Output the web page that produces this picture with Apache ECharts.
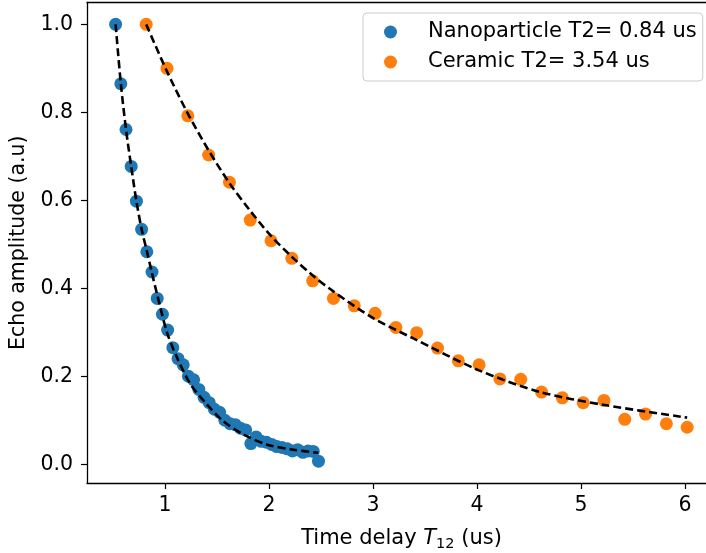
<!DOCTYPE html>
<html>
<head>
<meta charset="utf-8">
<script src="https://cdn.jsdelivr.net/npm/echarts@6/dist/echarts.min.js"></script>
<style>html,body{margin:0;padding:0;background:#fff;}#c{width:706px;height:553px;}</style>
</head>
<body>
<div id="c"></div>
<script>
// Nanoparticle data
var nanoX = [0.526,0.576,0.626,0.676,0.726,0.776,0.826,0.876,0.926,0.976,1.026,1.076,1.126,1.176,1.226,1.276,1.326,1.376,1.426,1.476,1.526,1.576,1.626,1.676,1.726,1.776,1.826,1.876,1.926,1.976,2.026,2.076,2.126,2.176,2.226,2.276,2.326,2.376,2.426,2.476];
var nanoY = [1.0,0.865,0.761,0.677,0.598,0.534,0.483,0.437,0.377,0.341,0.305,0.265,0.240,0.226,0.200,0.192,0.170,0.152,0.140,0.125,0.118,0.100,0.092,0.090,0.082,0.078,0.047,0.062,0.052,0.050,0.045,0.040,0.038,0.035,0.030,0.033,0.027,0.030,0.029,0.007];
// Nanoparticle fit curve
var nanoFitX = [0.526,0.576,0.626,0.676,0.726,0.776,0.824,0.872,0.926,1.022,1.112,1.24,1.40,1.56,1.753,1.978,2.234,2.474];
var nanoFitY = [1.0,0.866,0.761,0.677,0.598,0.534,0.487,0.438,0.385,0.298,0.245,0.184,0.137,0.098,0.068,0.045,0.033,0.026];
// Ceramic data
var ceraX = [0.82,1.02,1.22,1.42,1.62,1.82,2.02,2.22,2.42,2.62,2.82,3.02,3.22,3.42,3.62,3.82,4.02,4.22,4.42,4.62,4.82,5.02,5.22,5.42,5.62,5.82,6.02];
var ceraY = [1.0,0.900,0.792,0.703,0.641,0.555,0.508,0.468,0.417,0.377,0.360,0.343,0.311,0.299,0.264,0.235,0.226,0.194,0.193,0.164,0.151,0.140,0.145,0.102,0.114,0.092,0.084];
// Ceramic fit curve
var ceraFitX = [0.82,1.016,1.214,1.416,1.618,1.817,2.016,2.218,2.416,2.618,3.003,3.388,4.013,4.61,5.215,6.02];
var ceraFitY = [1.0,0.895,0.800,0.715,0.640,0.577,0.520,0.472,0.430,0.393,0.332,0.286,0.214,0.164,0.135,0.106];
// Tick labels
var xTicks = [1,2,3,4,5,6];
var yTicks = [0.0,0.2,0.4,0.6,0.8,1.0];
var legendNames = ['Nanoparticle T2= 0.84 us','Ceramic T2= 3.54 us'];

function pairs(xs, ys){ return xs.map(function(x,i){ return [x, ys[i]]; }); }

var chart = echarts.init(document.getElementById('c'), null, {renderer:'canvas'});
var font = 'DejaVu Sans';
var spine = {show: true, onZero: false, lineStyle: {color: '#000', width: 1.3}};
chart.setOption({
  animation: false,
  backgroundColor: '#ffffff',
  textStyle: {fontFamily: font},
  grid: {left: 87, width: 629, top: 2.5, bottom: 70, containLabel: false, outerBoundsMode: 'none', show: false},
  legend: {
    data: legendNames.map(function(n){ return {name: n, icon: 'circle'}; }),
    orient: 'vertical', left: 363, top: 13,
    itemWidth: 13, itemHeight: 13, itemGap: 8,
    padding: [8, 6, 8, 21],
    backgroundColor: 'rgba(255,255,255,0.8)', borderColor: '#cccccc', borderWidth: 1, borderRadius: 4,
    textStyle: {fontFamily: font, fontSize: 21, color: '#000', lineHeight: 22, padding: [0,0,0,26]}
  },
  xAxis: [{
    type: 'value', min: 0.251, max: 6.297, position: 'bottom',
    name: '{n|Time delay }{i|T}{s|12}{n| (us)}', nameLocation: 'middle', nameGap: 42,
    nameTextStyle: {rich: {
      n: {fontFamily: font, fontSize: 21, color: '#000'},
      i: {fontFamily: font, fontSize: 21, fontStyle: 'italic', color: '#000'},
      s: {fontFamily: font, fontSize: 14.5, color: '#000', verticalAlign: 'bottom', padding: [12,0,0,0]}
    }},
    axisLine: spine,
    axisTick: {show: true, length: 6, lineStyle: {color: '#000', width: 1.2}, customValues: xTicks},
    axisLabel: {customValues: xTicks, fontFamily: font, fontSize: 20.5, color: '#000', margin: 12, formatter: function(v){ return String(v); }},
    splitLine: {show: false}
  }, {
    type: 'value', min: 0.251, max: 6.297, position: 'top',
    axisLine: spine, axisTick: {show: false}, axisLabel: {show: false}, splitLine: {show: false}
  }],
  yAxis: {
    type: 'value', min: -0.0427, max: 1.0497,
    name: 'Echo amplitude (a.u)', nameLocation: 'middle', nameGap: 58, nameRotate: 90,
    nameTextStyle: {fontFamily: font, fontSize: 20.5, color: '#000'},
    axisLine: spine,
    axisTick: {show: true, length: 6, lineStyle: {color: '#000', width: 1.2}, customValues: yTicks},
    axisLabel: {customValues: yTicks, fontFamily: font, fontSize: 20.5, color: '#000', margin: 14, formatter: function(v){ return v.toFixed(1); }},
    splitLine: {show: false}
  },
  series: [
    {name: legendNames[0], type: 'scatter', data: pairs(nanoX, nanoY), symbol: 'circle', symbolSize: 13, itemStyle: {color: '#1f77b4', opacity: 1}, z: 2},
    {name: legendNames[1], type: 'scatter', data: pairs(ceraX, ceraY), symbol: 'circle', symbolSize: 13, itemStyle: {color: '#ff7f0e', opacity: 1}, z: 2},
    {name: 'nanoFit', type: 'line', data: pairs(nanoFitX, nanoFitY), smooth: 0.3, showSymbol: false, symbol: 'none', lineStyle: {color: '#000', width: 2.6, type: [8,4]}, z: 5},
    {name: 'ceraFit', type: 'line', data: pairs(ceraFitX, ceraFitY), smooth: 0.3, showSymbol: false, symbol: 'none', lineStyle: {color: '#000', width: 2.6, type: [8,4]}, z: 5}
  ]
});
</script>
</body>
</html>
